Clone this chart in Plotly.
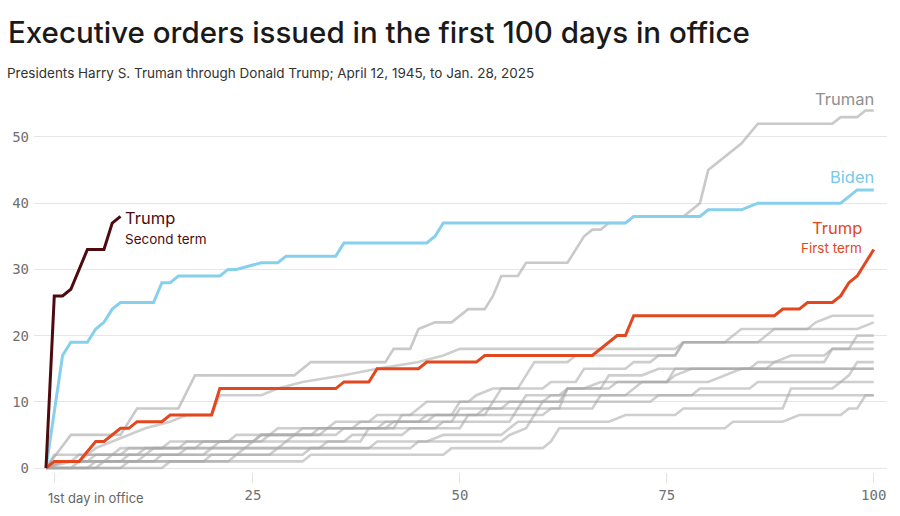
import plotly.graph_objects as go

# ---------------- data (day in office, cumulative executive orders) ----------------
truman_days = [0, 3, 9, 10, 11, 16, 18, 30, 32, 41, 42, 44, 45, 47, 49, 51, 53, 54, 55, 57, 58, 63, 65, 66, 67, 68, 70, 71, 77, 79, 80, 84, 86, 95, 96, 98, 99, 100]
truman_vals = [0, 5, 5, 7, 9, 9, 14, 14, 16, 16, 18, 18, 21, 22, 22, 24, 24, 26, 29, 29, 31, 31, 35, 36, 36, 37, 37, 38, 38, 40, 45, 49, 52, 52, 53, 53, 54, 54]

biden_days = [0, 2, 3, 5, 6, 7, 8, 9, 13, 14, 15, 16, 21, 22, 23, 26, 28, 29, 35, 36, 46, 47, 48, 70, 71, 79, 80, 84, 86, 96, 98, 100]
biden_vals = [0, 17, 19, 19, 21, 22, 24, 25, 25, 28, 28, 29, 29, 30, 30, 31, 31, 32, 32, 34, 34, 35, 37, 37, 38, 38, 39, 39, 40, 40, 42, 42]

trump1_days = [0, 1, 4, 6, 7, 8, 9, 10, 11, 14, 15, 20, 21, 35, 36, 39, 40, 45, 46, 52, 53, 66, 67, 69, 70, 71, 88, 89, 91, 92, 95, 96, 97, 98, 99, 100]
trump1_vals = [0, 1, 1, 4, 4, 5, 6, 6, 7, 7, 8, 8, 12, 12, 13, 13, 15, 15, 16, 16, 17, 17, 18, 20, 20, 23, 23, 24, 24, 25, 25, 26, 28, 29, 31, 33]

trump2_days = [0, 1, 2, 3, 5, 7, 8, 9]
trump2_vals = [0, 26, 26, 27, 33, 33, 37, 38]

gray_a_days = [0, 1, 4, 6, 8, 10, 12, 15, 17, 20, 21, 26, 28, 31, 36, 40, 45, 48, 50, 76, 77, 86, 88, 92, 93, 95, 100]
gray_a_vals = [0, 1, 1, 3, 4, 5, 6, 7, 8, 8, 11, 11, 12, 13, 14, 15, 16, 17, 18, 18, 19, 19, 21, 21, 22, 23, 23]

gray_b_days = [0, 2, 7, 8, 11, 12, 20, 21, 26, 27, 33, 34, 40, 41, 46, 47, 53, 55, 57, 58, 59, 63, 64, 76, 77, 82, 84, 98, 100]
gray_b_vals = [0, 1, 1, 2, 2, 3, 3, 4, 4, 5, 5, 6, 6, 7, 7, 8, 8, 12, 12, 14, 16, 16, 17, 17, 19, 19, 21, 21, 22]

gray_c_days = [0, 3, 4, 9, 10, 16, 17, 24, 25, 29, 30, 35, 36, 41, 42, 49, 50, 55, 56, 62, 63, 67, 68, 72, 74, 87, 88, 90, 94, 95, 97, 98, 100]
gray_c_vals = [0, 0, 1, 1, 2, 2, 3, 3, 4, 4, 5, 5, 6, 6, 7, 7, 9, 9, 10, 10, 12, 12, 14, 14, 15, 15, 16, 17, 17, 18, 18, 20, 20]

gray_d_days = [0, 2, 5, 6, 9, 10, 14, 15, 22, 23, 27, 28, 34, 35, 39, 40, 44, 46, 51, 52, 54, 60, 61, 64, 65, 70, 71, 73, 74, 76, 77, 100]
gray_d_vals = [0, 1, 1, 2, 2, 3, 3, 4, 4, 5, 5, 6, 6, 7, 7, 8, 8, 10, 10, 11, 12, 12, 13, 13, 15, 15, 16, 16, 17, 17, 19, 19]

gray_e_days = [0, 1, 3, 4, 12, 13, 18, 19, 25, 26, 30, 31, 37, 38, 45, 46, 52, 53, 57, 58, 62, 63, 68, 69, 75, 76, 85, 86, 94, 95, 100]
gray_e_vals = [0, 1, 1, 2, 2, 3, 3, 4, 4, 5, 5, 6, 6, 7, 7, 8, 8, 9, 9, 11, 11, 12, 12, 13, 13, 15, 15, 16, 16, 18, 18]

gray_f_days = [0, 5, 6, 11, 12, 19, 20, 28, 29, 36, 37, 43, 44, 50, 51, 60, 61, 66, 67, 78, 79, 85, 86, 96, 97, 98, 100]
gray_f_vals = [0, 0, 1, 1, 2, 2, 3, 3, 4, 4, 5, 5, 6, 6, 8, 8, 9, 9, 11, 11, 12, 12, 13, 13, 14, 16, 16]

gray_g_days = [0, 1, 8, 9, 16, 17, 25, 26, 32, 33, 42, 43, 49, 50, 60, 61, 70, 72, 80, 82, 84, 100]
gray_g_vals = [0, 2, 2, 3, 3, 4, 4, 5, 5, 6, 6, 8, 8, 10, 10, 11, 11, 13, 13, 14, 15, 15]

gray_h_days = [0, 3, 13, 14, 23, 24, 33, 34, 38, 39, 47, 48, 56, 57, 62, 63, 65, 67, 75, 76, 78, 100]
gray_h_vals = [0, 1, 1, 2, 2, 3, 3, 4, 4, 6, 6, 7, 7, 9, 9, 12, 12, 13, 13, 14, 15, 15]

gray_i_days = [0, 6, 7, 19, 20, 27, 28, 39, 40, 46, 48, 55, 57, 68, 70, 76, 77, 89, 90, 95, 96, 100]
gray_i_vals = [0, 0, 1, 1, 2, 2, 3, 3, 4, 4, 5, 5, 7, 7, 8, 8, 9, 9, 12, 12, 13, 13]

gray_j_days = [0, 9, 10, 22, 23, 31, 32, 44, 45, 55, 56, 58, 60, 73, 74, 100]
gray_j_vals = [0, 0, 1, 1, 2, 2, 3, 3, 4, 4, 5, 6, 10, 10, 11, 11]

gray_k_days = [0, 14, 15, 31, 32, 48, 49, 60, 61, 62, 82, 83, 89, 91, 96, 97, 98, 99, 100]
gray_k_vals = [0, 0, 1, 1, 2, 2, 3, 3, 4, 6, 6, 7, 7, 8, 8, 9, 9, 11, 11]

x_tick_vals = [1, 25, 50, 75, 100]
x_tick_text = ["", "25", "50", "75", "100"]
y_tick_vals = [0, 10, 20, 30, 40, 50]

# ---------------- styling ----------------
GRAY = "rgba(165,165,165,0.55)"
TRUMAN_C = "rgba(165,165,165,0.6)"
BIDEN_C = "#86d0ee"
TRUMP1_C = "#e2471f"
TRUMP2_C = "#4e0b0f"

fig = go.Figure()

grays = [
    (gray_a_days, gray_a_vals), (gray_b_days, gray_b_vals), (gray_c_days, gray_c_vals),
    (gray_d_days, gray_d_vals), (gray_e_days, gray_e_vals), (gray_f_days, gray_f_vals),
    (gray_g_days, gray_g_vals), (gray_h_days, gray_h_vals), (gray_i_days, gray_i_vals),
    (gray_j_days, gray_j_vals), (gray_k_days, gray_k_vals),
]
for d, v in grays:
    fig.add_trace(go.Scatter(x=d, y=v, mode="lines", line=dict(color=GRAY, width=2.6),
                             hoverinfo="skip", showlegend=False))

fig.add_trace(go.Scatter(x=truman_days, y=truman_vals, mode="lines",
                         line=dict(color=TRUMAN_C, width=2.6), showlegend=False, name="Truman"))
fig.add_trace(go.Scatter(x=trump1_days, y=trump1_vals, mode="lines",
                         line=dict(color=TRUMP1_C, width=3), showlegend=False, name="Trump first term"))
fig.add_trace(go.Scatter(x=biden_days, y=biden_vals, mode="lines",
                         line=dict(color=BIDEN_C, width=3), showlegend=False, name="Biden"))
fig.add_trace(go.Scatter(x=trump2_days, y=trump2_vals, mode="lines",
                         line=dict(color=TRUMP2_C, width=3), showlegend=False, name="Trump second term"))

LABEL_FONT = "Inter, Roboto, sans-serif"
MONO = "DejaVu Sans Mono, monospace"

annotations = [
    # title & subtitle
    dict(text="Executive orders issued in the first 100 days in office", xref="paper", yref="paper",
         x=-0.033, y=1.137, xanchor="left", yanchor="middle", showarrow=False,
         font=dict(family=LABEL_FONT, size=29.5, color="#1a1a1a", weight=500)),
    dict(text="Presidents Harry S. Truman through Donald Trump; April 12, 1945, to Jan. 28, 2025",
         xref="paper", yref="paper", x=-0.0335, y=1.031, xanchor="left", yanchor="middle",
         showarrow=False, font=dict(family=LABEL_FONT, size=13.5, color="#333333")),
    # series labels
    dict(text="Truman", x=100.3, y=55.8, xref="x", yref="y", xanchor="right", yanchor="middle",
         showarrow=False, font=dict(family=LABEL_FONT, size=16.5, color="#8f8f8f")),
    dict(text="Biden", x=100.3, y=43.9, xref="x", yref="y", xanchor="right", yanchor="middle",
         showarrow=False, font=dict(family=LABEL_FONT, size=16.5, color="#79c9e8")),
    dict(text="Trump", x=98.8, y=36.3, xref="x", yref="y", xanchor="right", yanchor="middle",
         showarrow=False, font=dict(family=LABEL_FONT, size=16.5, color=TRUMP1_C)),
    dict(text="First term", x=98.8, y=33.2, xref="x", yref="y", xanchor="right", yanchor="middle",
         showarrow=False, font=dict(family=LABEL_FONT, size=13.5, color=TRUMP1_C)),
    dict(text="Trump", x=9.3, y=37.7, xref="x", yref="y", xanchor="left", yanchor="middle",
         showarrow=False, font=dict(family=LABEL_FONT, size=16.5, color=TRUMP2_C)),
    dict(text="Second term", x=9.3, y=34.6, xref="x", yref="y", xanchor="left", yanchor="middle",
         showarrow=False, font=dict(family=LABEL_FONT, size=13.5, color=TRUMP2_C)),
    # first x tick label
    dict(text="1st day in office", x=0.0, y=0, xref="x", yref="paper", xanchor="left", yanchor="top",
         yshift=-16, showarrow=False, font=dict(family=LABEL_FONT, size=13, color="#666666")),
]

fig.update_layout(
    width=900, height=516,
    margin=dict(l=32, r=13, t=85, b=44),
    paper_bgcolor="white", plot_bgcolor="white",
    showlegend=False,
    annotations=annotations,
    xaxis=dict(range=[-1.45, 101.6], tickvals=x_tick_vals, ticktext=x_tick_text,
               showgrid=False, zeroline=False, showline=False,
               ticks="outside", ticklen=10, tickcolor="#e3e3e3", tickwidth=1,
               tickfont=dict(family=MONO, size=14, color="#707070")),
    yaxis=dict(range=[-0.6, 57.85], tickvals=y_tick_vals, showgrid=True, gridcolor="#e6e6e6",
               gridwidth=1, zeroline=False, showline=False, ticks="", ticklabelstandoff=4,
               tickfont=dict(family=MONO, size=14, color="#707070")),
)

fig.write_html("out.html")
